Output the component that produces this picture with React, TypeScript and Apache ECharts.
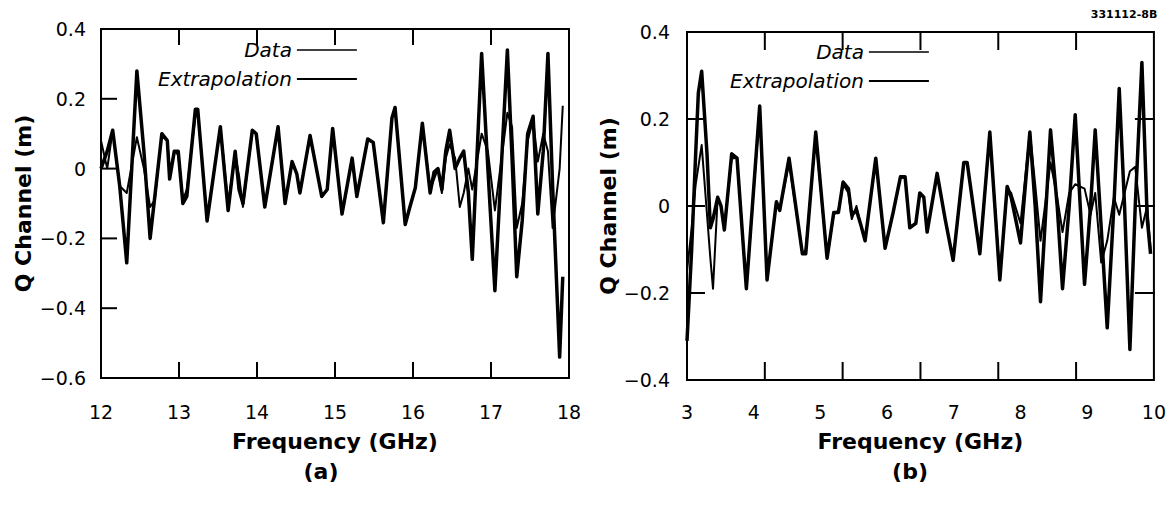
import React, { useEffect, useRef } from "react";
import * as echarts from "echarts";

// Panel (a): 12–18 GHz
const freqA = [12.00, 12.08, 12.15, 12.24, 12.33, 12.46, 12.55, 12.63, 12.69, 12.78, 12.85, 12.88, 12.94, 12.99, 13.05, 13.10, 13.21, 13.24, 13.36, 13.53, 13.63, 13.72, 13.77, 13.82, 13.94, 13.99, 14.10, 14.27, 14.36, 14.45, 14.51, 14.55, 14.68, 14.83, 14.90, 14.97, 15.09, 15.22, 15.28, 15.42, 15.49, 15.62, 15.73, 15.77, 15.90, 15.96, 16.03, 16.12, 16.22, 16.27, 16.32, 16.37, 16.42, 16.47, 16.54, 16.60, 16.65, 16.71, 16.76, 16.88, 16.96, 17.05, 17.21, 17.27, 17.33, 17.40, 17.47, 17.54, 17.60, 17.67, 17.73, 17.79, 17.88, 17.92];
const dataA = [0.08, 0.0, 0.11, -0.05, -0.07, 0.09, 0.0, -0.11, -0.09, 0.10, 0.08, -0.01, 0.05, 0.04, -0.09, -0.06, 0.15, 0.17, -0.15, 0.12, -0.10, 0.04, -0.02, -0.11, 0.11, 0.10, -0.11, 0.12, -0.10, 0.02, -0.015, -0.07, 0.095, -0.08, -0.06, 0.115, -0.13, 0.03, -0.08, 0.085, 0.075, -0.155, 0.145, 0.175, -0.16, -0.11, -0.055, 0.13, -0.06, -0.03, 0.0, -0.07, 0.03, 0.07, 0.03, -0.11, -0.07, 0.0, -0.06, 0.10, 0.05, -0.12, 0.16, 0.12, -0.17, -0.10, 0.08, 0.14, 0.02, 0.10, 0.05, -0.17, 0.0, 0.18];
const extrapA = [0.0, 0.05, 0.11, -0.05, -0.27, 0.28, 0.05, -0.20, -0.08, 0.10, 0.08, -0.03, 0.05, 0.05, -0.10, -0.08, 0.17, 0.17, -0.15, 0.12, -0.12, 0.05, -0.06, -0.10, 0.11, 0.10, -0.11, 0.12, -0.10, 0.02, -0.015, -0.07, 0.095, -0.08, -0.06, 0.115, -0.13, 0.03, -0.08, 0.085, 0.075, -0.155, 0.145, 0.175, -0.16, -0.11, -0.055, 0.13, -0.07, -0.01, 0.0, -0.06, 0.05, 0.11, 0.0, 0.03, 0.05, -0.07, -0.26, 0.33, 0.0, -0.35, 0.34, 0.03, -0.31, -0.15, 0.10, 0.15, -0.13, 0.05, 0.33, -0.05, -0.54, -0.31];

// Panel (b): 3–10 GHz
const freqB = [3.00, 3.07, 3.13, 3.17, 3.22, 3.30, 3.35, 3.39, 3.46, 3.51, 3.56, 3.67, 3.75, 3.89, 4.09, 4.20, 4.34, 4.39, 4.53, 4.73, 4.78, 4.93, 5.10, 5.20, 5.27, 5.34, 5.42, 5.47, 5.54, 5.60, 5.67, 5.83, 5.97, 6.09, 6.20, 6.27, 6.34, 6.43, 6.49, 6.55, 6.60, 6.75, 6.87, 6.99, 7.15, 7.20, 7.39, 7.54, 7.69, 7.80, 7.86, 8.00, 8.14, 8.22, 8.30, 8.45, 8.55, 8.63, 8.73, 8.82, 8.96, 9.05, 9.12, 9.21, 9.30, 9.40, 9.48, 9.56, 9.64, 9.72, 9.82, 9.90, 9.95];
const dataB = [-0.15, -0.05, 0.05, 0.09, 0.14, -0.02, -0.12, -0.19, 0.02, 0.0, -0.05, 0.11, 0.11, -0.19, 0.22, -0.17, 0.01, -0.01, 0.10, -0.11, -0.10, 0.16, -0.12, -0.02, -0.01, 0.05, 0.03, -0.03, 0.0, -0.04, -0.08, 0.11, -0.097, -0.015, 0.065, 0.065, -0.05, -0.04, 0.03, 0.02, -0.06, 0.075, -0.03, -0.125, 0.10, 0.10, -0.11, 0.17, -0.16, 0.04, 0.03, -0.04, 0.17, 0.05, -0.08, 0.10, 0.02, -0.06, 0.03, 0.05, 0.04, -0.02, 0.03, -0.13, -0.08, 0.02, -0.02, 0.03, 0.08, 0.09, -0.05, 0.0, -0.10];
const extrapB = [-0.31, -0.10, 0.12, 0.26, 0.31, 0.12, -0.05, -0.03, 0.02, 0.0, -0.055, 0.12, 0.11, -0.19, 0.23, -0.17, 0.01, -0.01, 0.11, -0.11, -0.11, 0.17, -0.12, -0.015, -0.015, 0.055, 0.04, -0.02, -0.01, -0.04, -0.08, 0.11, -0.097, -0.015, 0.067, 0.067, -0.05, -0.04, 0.03, 0.02, -0.06, 0.075, -0.03, -0.125, 0.10, 0.10, -0.11, 0.17, -0.17, 0.045, 0.02, -0.085, 0.17, 0.0, -0.22, 0.175, 0.0, -0.19, 0.0, 0.21, -0.18, 0.0, 0.175, -0.05, -0.28, 0.0, 0.27, 0.0, -0.33, 0.0, 0.33, -0.03, -0.11];

// Tick positions (in axis units)
const xTicksA = [13, 14, 15, 16, 17];
const yTicksA = [-0.4, -0.2, 0, 0.2];
const xTickDivisionsB = 6; // panel (b) tick marks split the 3–10 span into 6 equal parts
const yTicksB = [-0.2, 0, 0.2];

const seriesNames = ["Data", "Extrapolation"];
const panelLabels = ["(a)", "(b)"];
const xTitle = "Frequency (GHz)";
const yTitle = "Q Channel (m)";
const figureId = "331112-8B";

const FONT = "DejaVu Sans";
const BLACK = "#000";

const fmtY = (v: number) => {
  if (Math.abs(v) < 1e-9) return "0";
  return (v < 0 ? "\u2212" : "") + Math.abs(v).toFixed(1);
};

const labelStyle = (margin: number) => ({ show: true, margin, color: BLACK, fontFamily: FONT, fontSize: 19 });
const titleStyle = () => ({ color: BLACK, fontFamily: FONT, fontWeight: "bold" as const, fontSize: 22 });

const rangeA = { x: [12, 18], y: [-0.6, 0.4] };
const rangeB = { x: [3, 10], y: [-0.4, 0.4] };

export default function App() {
  const ref = useRef<HTMLDivElement>(null);
  useEffect(() => {
    if (!ref.current) return;
    const chart = echarts.init(ref.current, undefined, { renderer: "svg" });
    const zip = (xs: number[], ys: number[]) => xs.map((x, i) => [x, ys[i]]);
    const legendCommon = () => ({
      orient: "vertical" as const,
      align: "right" as const,
      padding: 0,
      itemWidth: 60,
      itemHeight: 14,
      itemGap: 9,
      selectedMode: false,
      itemStyle: { opacity: 0 },
      textStyle: { color: BLACK, fontFamily: FONT, fontStyle: "italic" as const, fontSize: 20 },
      data: [
        { name: seriesNames[0], lineStyle: { width: 1.3, color: BLACK } },
        { name: seriesNames[1], lineStyle: { width: 2.2, color: BLACK } },
      ],
    });
    const hiddenLine = { show: false, onZero: false };
    chart.setOption({
      animation: false,
      grid: [
        { left: 101, top: 29, width: 468, height: 349 },
        { left: 687, top: 32, width: 470, height: 348 },
      ],
      xAxis: [
        {
          gridIndex: 0, type: "value", position: "bottom", min: rangeA.x[0], max: rangeA.x[1], interval: 1,
          axisLine: hiddenLine, axisTick: { show: false }, axisLabel: labelStyle(24), splitLine: { show: false },
          name: xTitle, nameLocation: "middle", nameGap: 52, nameTextStyle: titleStyle(),
        },
        {
          gridIndex: 1, type: "value", position: "bottom", min: rangeB.x[0], max: rangeB.x[1], interval: 1,
          axisLine: hiddenLine, axisTick: { show: false }, axisLabel: labelStyle(22), splitLine: { show: false },
          name: xTitle, nameLocation: "middle", nameGap: 50, nameTextStyle: titleStyle(),
        },
      ],
      yAxis: [
        {
          gridIndex: 0, type: "value", position: "left", min: rangeA.y[0], max: rangeA.y[1], interval: 0.2,
          axisLine: hiddenLine, axisTick: { show: false }, axisLabel: { ...labelStyle(15), formatter: fmtY }, splitLine: { show: false },
          name: yTitle, nameLocation: "middle", nameGap: 67, nameTextStyle: titleStyle(),
        },
        {
          gridIndex: 1, type: "value", position: "left", min: rangeB.y[0], max: rangeB.y[1], interval: 0.2,
          axisLine: hiddenLine, axisTick: { show: false }, axisLabel: { ...labelStyle(17), formatter: fmtY }, splitLine: { show: false },
          name: yTitle, nameLocation: "middle", nameGap: 53, nameTextStyle: titleStyle(),
        },
      ],
      legend: [
        { ...legendCommon(), right: 1169 - 358, top: 40 },
        { ...legendCommon(), right: 1169 - 930, top: 42 },
      ],
      series: [
        { name: seriesNames[0], type: "line", xAxisIndex: 0, yAxisIndex: 0, data: zip(freqA, dataA),
          symbol: "none", itemStyle: { color: BLACK }, lineStyle: { color: BLACK, width: 2, join: "round" } },
        { name: seriesNames[1], type: "line", xAxisIndex: 0, yAxisIndex: 0, data: zip(freqA, extrapA),
          symbol: "none", itemStyle: { color: BLACK }, lineStyle: { color: BLACK, width: 3.5, join: "round" } },
        { name: seriesNames[0], type: "line", xAxisIndex: 1, yAxisIndex: 1, data: zip(freqB, dataB),
          symbol: "none", itemStyle: { color: BLACK }, lineStyle: { color: BLACK, width: 2, join: "round" } },
        { name: seriesNames[1], type: "line", xAxisIndex: 1, yAxisIndex: 1, data: zip(freqB, extrapB),
          symbol: "none", itemStyle: { color: BLACK }, lineStyle: { color: BLACK, width: 3.5, join: "round" } },
      ],
    });

    // Frame and inward ticks, placed through the library's own scales
    const px = (grid: number, x: number, y: number) => chart.convertToPixel({ gridIndex: grid }, [x, y]) as number[];
    const seg = (a: number[], b: number[]) => ({
      type: "line", silent: true, z: 10,
      shape: { x1: a[0], y1: a[1], x2: b[0], y2: b[1] },
      style: { stroke: BLACK, lineWidth: 2, lineCap: "square" },
    });
    const frame = (grid: number, r: { x: number[]; y: number[] }) => {
      const tl = px(grid, r.x[0], r.y[1]);
      const br = px(grid, r.x[1], r.y[0]);
      return {
        type: "rect", silent: true, z: 10,
        shape: { x: tl[0], y: tl[1], width: br[0] - tl[0], height: br[1] - tl[1] },
        style: { fill: "none", stroke: BLACK, lineWidth: 2 },
      };
    };
    const els: any[] = [frame(0, rangeA), frame(1, rangeB)];
    // panel (a)
    const topA = px(0, rangeA.x[0], rangeA.y[1])[1];
    const botA = px(0, rangeA.x[0], rangeA.y[0])[1];
    const leftA = px(0, rangeA.x[0], 0)[0];
    xTicksA.forEach((v) => {
      const x = px(0, v, 0)[0];
      els.push(seg([x, botA], [x, botA - 15]));
      els.push(seg([x, topA], [x, topA + 15]));
    });
    yTicksA.forEach((v) => {
      const y = px(0, rangeA.x[0], v)[1];
      els.push(seg([leftA, y], [leftA + 15, y]));
    });
    // panel (b)
    const topB = px(1, rangeB.x[0], rangeB.y[1])[1];
    const botB = px(1, rangeB.x[0], rangeB.y[0])[1];
    const leftB = px(1, rangeB.x[0], 0)[0];
    const rightB = px(1, rangeB.x[1], 0)[0];
    for (let k = 1; k < xTickDivisionsB; k++) {
      const v = rangeB.x[0] + ((rangeB.x[1] - rangeB.x[0]) * k) / xTickDivisionsB;
      const x = px(1, v, 0)[0];
      els.push(seg([x, botB], [x, botB - 17]));
      els.push(seg([x, topB], [x, topB + 17]));
    }
    yTicksB.forEach((v) => {
      const y = px(1, rangeB.x[0], v)[1];
      els.push(seg([leftB, y], [leftB + 17, y]));
      els.push(seg([rightB, y], [rightB - 18, y]));
    });
    // captions
    els.push({ type: "text", x: 321, y: 471, style: { text: panelLabels[0], fill: BLACK, fontFamily: FONT, fontWeight: "bold", fontSize: 22, textAlign: "center", textVerticalAlign: "middle" } });
    els.push({ type: "text", x: 910, y: 471, style: { text: panelLabels[1], fill: BLACK, fontFamily: FONT, fontWeight: "bold", fontSize: 22, textAlign: "center", textVerticalAlign: "middle" } });
    els.push({ type: "text", x: 1124, y: 14, style: { text: figureId, fill: BLACK, fontFamily: FONT, fontWeight: "bold", fontSize: 11, textAlign: "center", textVerticalAlign: "middle" } });
    chart.setOption({ graphic: els });

    return () => chart.dispose();
  }, []);
  return <div ref={ref} style={{ position: "absolute", left: 0, top: 0, width: 1169, height: 506, background: "#fff" }} />;
}
